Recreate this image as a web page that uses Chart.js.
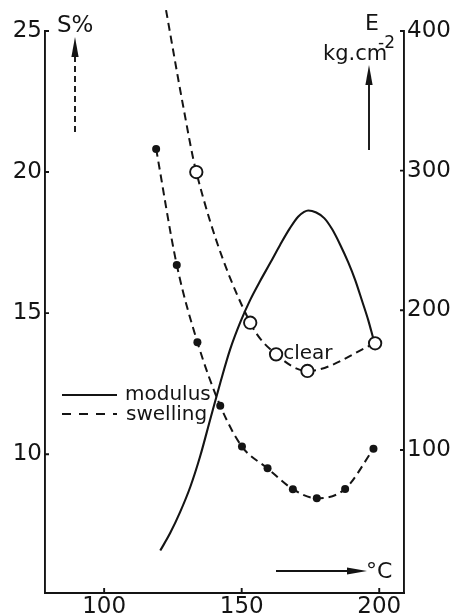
<!DOCTYPE html>
<html>
<head>
<meta charset="utf-8">
<title>Swelling and modulus vs. temperature</title>
<script src="https://cdn.jsdelivr.net/npm/chart.js@4.4.1/dist/chart.umd.min.js"></script>
<style>
  html, body { margin: 0; padding: 0; background: #fff; }
  canvas { display: block; }
</style>
</head>
<body>
<canvas id="chart" width="461" height="616"></canvas>
<script>
// Axis ticks
const tempTicks = [100, 150, 200];          // °C
const swellTicks = [10, 15, 20, 25];        // S %
const modulusTicks = [100, 200, 300, 400];  // E, kg.cm-2

// Modulus E (right axis) along the solid curve
const modulusTemp = [120.4, 124.0, 127.6, 131.3, 134.9, 138.5, 142.2, 145.8, 149.5, 153.1, 156.7, 160.4, 164.0,
                     167.6, 170.5, 172.7, 174.2, 177.1, 180.0, 182.9, 185.8, 188.7, 191.3, 193.8, 196.0, 197.8];
const modulusE    = [28, 40.5, 55.5, 73.5, 95.5, 121.5, 148, 172, 191.5, 207.5, 221, 234, 247,
                     259, 267, 270.5, 271.5, 270, 266, 258, 247, 234.5, 221.5, 206.5, 193, 180];

// Swelling S (left axis), filled points
const swellTemp = [118.9, 126.4, 133.9, 142.2, 150.1, 159.4, 168.6, 177.3, 187.6, 197.9];
const swellS    = [20.82, 16.71, 13.97, 11.72, 10.27, 9.50, 8.76, 8.44, 8.77, 10.19];

// Swelling S of the clear samples, open points
const clearTemp = [133.5, 153.1, 162.5, 173.9, 198.5];
const clearS    = [20.0, 14.66, 13.54, 12.95, 13.93];
// upper run of the clear curve (no markers)
const clearLeadTemp = [122.5, 128.8];
const clearLeadS    = [25.74, 22.3];

const INK = '#141414';
const FONT = 'DejaVu Sans, sans-serif';

const pts = (xs, ys) => xs.map((x, i) => ({ x, y: ys[i] }));

// Inward tick marks, axis captions, arrows, legend
const decor = {
  id: 'decor',
  afterDraw(chart) {
    const ctx = chart.ctx;
    const { x, yS, yE } = chart.scales;
    const a = chart.chartArea;
    ctx.save();
    ctx.strokeStyle = INK;
    ctx.fillStyle = INK;
    ctx.lineWidth = 1.9;
    ctx.lineCap = 'butt';

    // tick marks pointing into the plot
    ctx.beginPath();
    swellTicks.forEach(v => { const p = yS.getPixelForValue(v); ctx.moveTo(a.left, p); ctx.lineTo(a.left + 4, p); });
    modulusTicks.forEach(v => { const p = yE.getPixelForValue(v); ctx.moveTo(a.right, p); ctx.lineTo(a.right - 4, p); });
    tempTicks.forEach(v => { const p = x.getPixelForValue(v); ctx.moveTo(p, a.bottom); ctx.lineTo(p, a.bottom - 5); });
    ctx.stroke();

    const arrowUp = (cx, tipY, baseY, endY, dash) => {
      ctx.beginPath();
      ctx.setLineDash(dash);
      ctx.moveTo(cx, endY); ctx.lineTo(cx, baseY);
      ctx.stroke();
      ctx.setLineDash([]);
      ctx.beginPath();
      ctx.moveTo(cx, tipY); ctx.lineTo(cx - 3.6, baseY); ctx.lineTo(cx + 3.6, baseY); ctx.closePath();
      ctx.fill();
    };

    // S% caption with dashed arrow
    ctx.textBaseline = 'alphabetic';
    ctx.textAlign = 'left';
    ctx.font = '23px ' + FONT;
    ctx.fillText('S%', a.left + 12, a.top + 1);
    arrowUp(a.left + 30, a.top + 6, a.top + 26, a.top + 101, [6, 4]);

    // E caption with solid arrow
    ctx.font = '22px ' + FONT;
    ctx.fillText('E', a.right - 39, a.top - 1);
    ctx.font = '21px ' + FONT;
    ctx.fillText('kg.cm', a.right - 81, a.top + 29);
    ctx.font = '17px ' + FONT;
    ctx.fillText('-2', a.right - 26, a.top + 17);
    arrowUp(a.right - 35, a.top + 34, a.top + 54, a.top + 119, []);

    // °C caption with arrow
    ctx.font = '22px ' + FONT;
    ctx.fillText('°C', a.right - 38, a.bottom - 15);
    ctx.beginPath();
    const ay = a.bottom - 22;
    ctx.moveTo(a.right - 128, ay); ctx.lineTo(a.right - 57, ay);
    ctx.stroke();
    ctx.beginPath();
    ctx.moveTo(a.right - 37, ay); ctx.lineTo(a.right - 57, ay - 3.6); ctx.lineTo(a.right - 57, ay + 3.6); ctx.closePath();
    ctx.fill();

    // "clear" next to the open-circle curve
    ctx.font = '20px ' + FONT;
    ctx.fillText('clear', x.getPixelForValue(165.1), yS.getPixelForValue(13.36));

    // legend
    ctx.lineWidth = 2;
    ctx.beginPath();
    ctx.moveTo(a.left + 17, 395); ctx.lineTo(a.left + 72, 395);
    ctx.stroke();
    ctx.beginPath();
    ctx.setLineDash([9, 8]);
    ctx.moveTo(a.left + 17, 414); ctx.lineTo(a.left + 72, 414);
    ctx.stroke();
    ctx.setLineDash([]);
    ctx.fillText('modulus', a.left + 80, 400);
    ctx.fillText('swelling', a.left + 81, 420);

    ctx.restore();
  }
};

const tickFont = { family: FONT, size: 23 };

new Chart(document.getElementById('chart'), {
  type: 'line',
  data: {
    datasets: [
      {
        // open markers of the clear samples (drawn on top)
        data: pts(clearTemp, clearS),
        yAxisID: 'yS',
        showLine: false,
        pointRadius: 6.2,
        pointBackgroundColor: '#fff',
        pointBorderColor: INK,
        pointBorderWidth: 1.9
      },
      {
        data: pts(clearLeadTemp.concat(clearTemp), clearLeadS.concat(clearS)),
        yAxisID: 'yS',
        borderColor: INK,
        borderWidth: 2,
        borderDash: [8, 5],
        pointRadius: 0,
        cubicInterpolationMode: 'monotone',
        clip: false
      },
      {
        data: pts(swellTemp, swellS),
        yAxisID: 'yS',
        borderColor: INK,
        borderWidth: 2,
        borderDash: [8, 5],
        pointRadius: 4,
        pointBackgroundColor: INK,
        pointBorderWidth: 0,
        cubicInterpolationMode: 'monotone'
      },
      {
        data: pts(modulusTemp, modulusE),
        yAxisID: 'yE',
        borderColor: INK,
        borderWidth: 2.1,
        pointRadius: 0,
        cubicInterpolationMode: 'monotone'
      }
    ]
  },
  options: {
    responsive: false,
    animation: false,
    devicePixelRatio: 1,
    layout: { padding: { top: 31, left: 0, right: 0, bottom: 0 } },
    plugins: { legend: { display: false }, tooltip: { enabled: false } },
    scales: {
      x: {
        type: 'linear',
        min: 78.5,
        max: 209,
        afterBuildTicks: s => { s.ticks = tempTicks.map(v => ({ value: v })); },
        afterFit: s => { s.height = 23; },
        grid: { display: false, drawTicks: false },
        border: { display: true, color: INK, width: 1.9 },
        ticks: { color: INK, font: tickFont, padding: 0, maxRotation: 0, autoSkip: false }
      },
      yS: {
        type: 'linear',
        position: 'left',
        min: 5.08,
        max: 25,
        afterBuildTicks: s => { s.ticks = swellTicks.map(v => ({ value: v })); },
        afterFit: s => { s.width = 45; },
        grid: { display: false, drawTicks: false },
        border: { display: true, color: INK, width: 1.9 },
        ticks: { color: INK, font: tickFont, padding: 3, autoSkip: false }
      },
      yE: {
        type: 'linear',
        position: 'right',
        min: -2.4,
        max: 400,
        afterBuildTicks: s => { s.ticks = modulusTicks.map(v => ({ value: v })); },
        afterFit: s => { s.width = 57; },
        grid: { display: false, drawTicks: false },
        border: { display: true, color: INK, width: 1.9 },
        ticks: { color: INK, font: tickFont, padding: 3, autoSkip: false }
      }
    }
  },
  plugins: [decor]
});
</script>
</body>
</html>
